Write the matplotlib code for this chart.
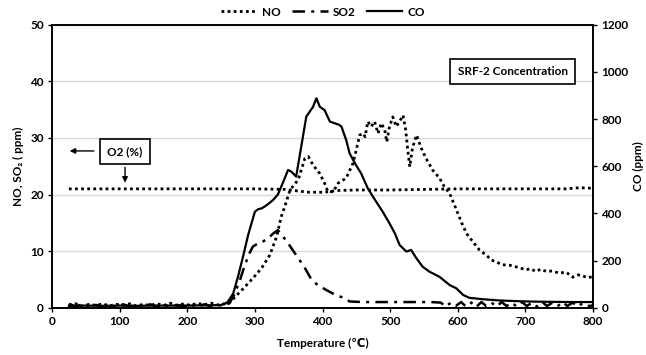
import matplotlib
matplotlib.use("Agg")
import matplotlib.pyplot as plt

# fonts: bold humanist look, fallback for the special glyphs
plt.rcParams['font.family'] = ['Lato', 'DejaVu Sans']
plt.rcParams['font.weight'] = 'bold'
plt.rcParams['font.size'] = 8.5

# ---- data ----
# NO (ppm, left axis)
no_t = [25, 35, 45, 55, 65, 75, 85, 95, 105, 115, 125, 135, 145, 155, 165,
        175, 185, 195, 205, 215, 225, 235, 245, 255, 262, 273, 283, 297, 310,
        322, 332, 339, 344, 352, 364, 374, 379, 386, 396, 403, 408, 416, 423,
        435, 445, 450, 455, 460, 463, 467, 472, 477, 482, 487, 492, 495, 499,
        504, 509, 514, 519, 523, 526, 529, 533, 539, 546, 553, 563, 573, 580,
        588, 598, 605, 613, 622, 632, 642, 650, 657, 665, 677, 690, 701, 708,
        715, 723, 731, 740, 750, 760, 770, 778, 785, 792, 800]
no_v = [0.4, 0.7, 0.3, 0.6, 0.4, 0.7, 0.3, 0.6, 0.4, 0.7, 0.3, 0.6, 0.4,
        0.7, 0.4, 0.8, 0.4, 0.7, 0.4, 0.8, 0.5, 0.8, 0.5, 0.7, 0.8, 2.2, 3.4,
        5.2, 7.0, 9.3, 12.5, 16.1, 17.8, 20.8, 22.6, 26.4, 26.7, 25.2, 23.7,
        22.0, 20.5, 20.5, 22.0, 22.9, 25.5, 27.9, 30.5, 30.8, 30.2, 32.9,
        32.0, 32.9, 30.8, 32.6, 31.4, 29.3, 32.0, 33.7, 32.0, 32.9, 34.0,
        31.4, 27.9, 24.9, 28.2, 30.5, 28.2, 26.4, 24.3, 22.9, 21.4, 20.2,
        17.3, 15.2, 13.1, 11.7, 10.2, 9.3, 8.4, 8.1, 7.6, 7.5, 7.1, 6.7, 6.9,
        6.4, 6.8, 6.4, 6.5, 6.1, 6.3, 5.4, 5.8, 5.6, 5.3, 5.5]

# SO2 (ppm, left axis)
so2_t = [25, 35, 45, 55, 65, 75, 85, 95, 105, 115, 125, 135, 145, 155, 165,
         175, 185, 195, 205, 215, 225, 235, 245, 255, 262, 268, 278, 285, 292,
         297, 305, 312, 320, 327, 334, 342, 349, 361, 374, 384, 393, 406, 420,
         433, 440, 460, 480, 500, 520, 540, 560, 575, 582, 590, 597, 605, 612,
         620, 627, 635, 642, 650, 657, 665, 672, 680, 687, 695, 702, 710, 717,
         725, 732, 740, 747, 755, 762, 770, 777, 785, 792, 800]
so2_v = [0.7, 0.2, 0.6, 0.1, 0.5, 0.2, 0.6, 0.1, 0.6, 0.2, 0.5, 0.1, 0.6,
         0.2, 0.6, 0.1, 0.5, 0.2, 0.6, 0.1, 0.6, 0.2, 0.5, 0.3, 0.8, 1.9,
         4.9, 7.5, 9.6, 10.8, 11.4, 11.7, 12.3, 13.1, 13.7, 12.5, 11.4, 9.3,
         7.0, 4.9, 4.0, 3.1, 2.2, 1.7, 1.1, 1.0, 1.0, 1.0, 1.0, 1.0, 1.0, 0.9,
         0.2, 0.9, 0.3, 1.0, 0.2, 0.9, 0.1, 1.0, 0.3, 0.9, 0.2, 1.0, 0.3, 0.9,
         0.2, 1.0, 0.3, 0.9, 0.2, 1.0, 0.3, 0.9, 0.2, 1.0, 0.3, 0.9, 0.2,
         0.8, 0.3, 0.4]

# CO (ppm, right axis)
co_t = [25, 50, 75, 100, 125, 150, 175, 200, 225, 248, 255, 260, 268, 275,
        283, 290, 295, 300, 305, 310, 316, 322, 327, 334, 342, 349, 354, 361,
        366, 371, 376, 381, 386, 391, 396, 403, 411, 418, 425, 428, 435, 440,
        448, 457, 467, 477, 489, 499, 507, 514, 524, 531, 539, 548, 558, 573,
        588, 598, 608, 617, 637, 660, 686, 710, 736, 770, 800]
co_v = [8, 9, 8, 9, 8, 9, 9, 9, 10, 11, 15, 25, 61, 131, 223, 308, 358, 407,
        418, 421, 432, 445, 457, 480, 534, 584, 577, 556, 640, 725, 810, 831,
        852, 888, 852, 838, 789, 782, 775, 768, 711, 655, 612, 570, 506, 460,
        407, 358, 315, 266, 238, 245, 209, 174, 153, 131, 96, 82, 54, 42, 36,
        31, 28, 26, 25, 24, 24]

# O2 (%, left axis)
o2_t = [25, 100, 200, 300, 345, 365, 380, 400, 410, 420, 450, 500, 550, 600,
        700, 760, 780, 800]
o2_v = [21.0, 21.0, 21.0, 21.0, 20.9, 20.6, 20.4, 20.4, 20.5, 20.7, 20.8,
        20.8, 20.9, 21.0, 21.0, 21.0, 21.2, 21.1]

fig = plt.figure(figsize=(6.46, 3.55), dpi=100)
ax = fig.add_axes([0.0805, 0.1332, 0.8375, 0.7972])
ax2 = ax.twinx()

dotted = (0, (1, 1.2))
dashdot = (0, (5, 2.5, 1.2, 2.5))

ax.plot(o2_t, o2_v, color='black', lw=2, linestyle=dotted)
ax.plot(no_t, no_v, color='black', lw=2, linestyle=dotted, label='NO')
ax.plot(so2_t, so2_v, color='black', lw=1.8, linestyle=dashdot, label='SO2')
ax2.plot(co_t, co_v, color='black', lw=1.6, label='CO')

ax.set_xlim(0, 800)
ax.set_ylim(0, 50)
ax2.set_ylim(0, 1200)
ax.set_xticks(range(0, 801, 100))
ax.set_yticks(range(0, 51, 10))
ax2.set_yticks(range(0, 1201, 200))
ax.yaxis.grid(True, color='#d9d9d9', lw=1)
ax.set_axisbelow(True)

for a in (ax, ax2):
    a.tick_params(direction='out', length=3, width=1, color='black', pad=3,
                  labelsize=8.5)
    for s in a.spines.values():
        s.set_color('black')
        s.set_linewidth(1.2)

ax.set_xlabel('Temperature (\u2103)', fontsize=8.5, fontweight='bold', labelpad=8)
ax.set_ylabel('NO, SO\u2082 ( ppm)', fontsize=8.5, fontweight='bold', labelpad=4)
ax2.set_ylabel('CO (ppm)', fontsize=8.5, fontweight='bold', labelpad=3)

# legend on top
h1, l1 = ax.get_legend_handles_labels()
h2, l2 = ax2.get_legend_handles_labels()
fig.legend(h1 + h2, l1 + l2, loc='center', bbox_to_anchor=(0.5, 0.966),
           ncol=3, frameon=False, handlelength=3, columnspacing=1.0,
           handletextpad=0.4, fontsize=8.5)

# text boxes
box = dict(boxstyle='square,pad=0.6', fc='white', ec='black', lw=1.2)
ax.text(681, 41.8, 'SRF-2 Concentration', ha='center', va='center',
        fontsize=8.5, fontweight='bold', bbox=box)
ax.text(108, 27.6, 'O2 (%)', ha='center', va='center', fontsize=8.5,
        fontweight='bold', bbox=box)
arrow = dict(arrowstyle='-|>', lw=1, color='black', mutation_scale=8)
ax.annotate('', xy=(22, 27.7), xytext=(66, 27.7), arrowprops=arrow)
ax.annotate('', xy=(108, 21.6), xytext=(108, 25.3), arrowprops=arrow)

fig.savefig('out.png', dpi=100)
